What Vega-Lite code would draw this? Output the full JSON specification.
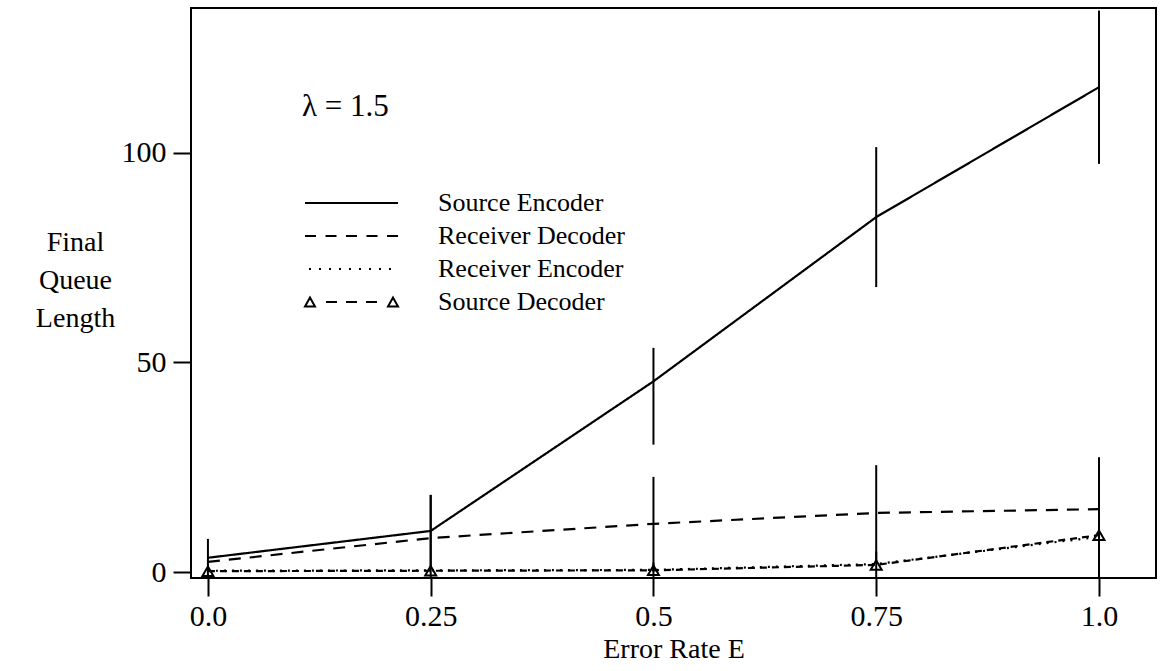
{
  "$schema": "https://vega.github.io/schema/vega-lite/v6.json",
  "width": 965,
  "height": 570,
  "autosize": {"type": "none"},
  "padding": {"left": 191, "top": 8, "right": 5, "bottom": 93},
  "background": "white",
  "config": {
    "font": "Liberation Serif",
    "view": {"stroke": "black", "strokeWidth": 2},
    "axis": {
      "labelFont": "Liberation Serif",
      "titleFont": "Liberation Serif",
      "labelColor": "black",
      "titleColor": "black",
      "titleFontWeight": "normal",
      "domain": false,
      "grid": false,
      "tickColor": "black",
      "tickWidth": 2,
      "tickSize": 18,
      "labelFontSize": 30,
      "titleFontSize": 28
    }
  },
  "datasets": {
    "queues": [
      {"E": 0.0, "series": "Source Encoder", "q": 3.4},
      {"E": 0.25, "series": "Source Encoder", "q": 9.8},
      {"E": 0.5, "series": "Source Encoder", "q": 45.5},
      {"E": 0.75, "series": "Source Encoder", "q": 84.7},
      {"E": 1.0, "series": "Source Encoder", "q": 115.7},
      {"E": 0.0, "series": "Receiver Decoder", "q": 2.4},
      {"E": 0.25, "series": "Receiver Decoder", "q": 8.1},
      {"E": 0.5, "series": "Receiver Decoder", "q": 11.5},
      {"E": 0.75, "series": "Receiver Decoder", "q": 14.1},
      {"E": 1.0, "series": "Receiver Decoder", "q": 15.0},
      {"E": 0.0, "series": "Receiver Encoder", "q": 0.3},
      {"E": 0.25, "series": "Receiver Encoder", "q": 0.4},
      {"E": 0.5, "series": "Receiver Encoder", "q": 0.5},
      {"E": 0.75, "series": "Receiver Encoder", "q": 1.9},
      {"E": 1.0, "series": "Receiver Encoder", "q": 8.4},
      {"E": 0.0, "series": "Source Decoder", "q": 0.2},
      {"E": 0.25, "series": "Source Decoder", "q": 0.3},
      {"E": 0.5, "series": "Source Decoder", "q": 0.4},
      {"E": 0.75, "series": "Source Decoder", "q": 1.7},
      {"E": 1.0, "series": "Source Decoder", "q": 8.8}
    ],
    "spread": [
      {"E": 0.0, "series": "Source Encoder", "lo": -1.5, "q": 7.9},
      {"E": 0.25, "series": "Source Encoder", "lo": 1.2, "q": 18.4},
      {"E": 0.5, "series": "Source Encoder", "lo": 30.4, "q": 53.5},
      {"E": 0.75, "series": "Source Encoder", "lo": 68, "q": 101.4},
      {"E": 1.0, "series": "Source Encoder", "lo": 97.4, "q": 134},
      {"E": 0.25, "series": "Receiver Decoder", "lo": -2.2, "q": 18.4},
      {"E": 0.5, "series": "Receiver Decoder", "lo": 0.3, "q": 22.7},
      {"E": 0.75, "series": "Receiver Decoder", "lo": 2.7, "q": 25.5},
      {"E": 1.0, "series": "Receiver Decoder", "lo": 2.6, "q": 27.4},
      {"E": 0.5, "series": "Source Decoder", "lo": -1.5, "q": 2.3},
      {"E": 0.75, "series": "Source Decoder", "lo": -1.5, "q": 4.9},
      {"E": 1.0, "series": "Source Decoder", "lo": -1.5, "q": 19.1}
    ],
    "key": [
      {"entry": "Source Encoder"},
      {"entry": "Receiver Decoder"},
      {"entry": "Receiver Encoder"},
      {"entry": "Source Decoder"}
    ]
  },
  "encoding": {
    "x": {
      "field": "E",
      "type": "quantitative",
      "scale": {"domain": [-0.019, 1.064], "nice": false, "zero": false},
      "axis": {
        "values": [0, 0.25, 0.5, 0.75, 1],
        "format": ".2~f",
        "labelExpr": "datum.value == 0 ? '0.0' : datum.value == 1 ? '1.0' : datum.label",
        "labelPadding": 5,
        "title": "Error Rate E",
        "titlePadding": 4
      }
    },
    "y": {
      "field": "q",
      "type": "quantitative",
      "scale": {"domain": [-1.43, 134.6], "nice": false, "zero": false},
      "axis": {
        "values": [0, 50, 100],
        "labelPadding": 7,
        "title": ["Final", "Queue", "Length"],
        "titleAngle": 0,
        "titleAlign": "center",
        "titleBaseline": "top",
        "titleLineHeight": 38,
        "titleX": -116,
        "titleY": 220
      }
    }
  },
  "layer": [
    {
      "data": {"name": "spread"},
      "mark": {"type": "rule", "color": "black", "strokeWidth": 2, "clip": true},
      "encoding": {
        "y2": {"field": "lo"}
      }
    },
    {
      "data": {"name": "queues"},
      "mark": {"type": "line", "color": "black", "strokeWidth": 2.2, "clip": true},
      "encoding": {
        "strokeDash": {
          "field": "series",
          "type": "nominal",
          "scale": {
            "domain": ["Source Decoder", "Receiver Encoder", "Receiver Decoder", "Source Encoder"],
            "range": [[7, 5], [2, 6], [12, 9], [1, 0]]
          },
          "legend": null
        }
      }
    },
    {
      "data": {"name": "queues"},
      "transform": [{"filter": "datum.series == 'Source Decoder'"}],
      "mark": {"type": "point", "shape": "triangle-up", "filled": false, "color": "black", "strokeWidth": 2, "size": 120, "opacity": 1}
    },
    {
      "data": {"name": "key"},
      "mark": {"type": "point", "filled": false, "color": "black", "opacity": 1, "size": 400},
      "encoding": {
        "shape": {
          "field": "entry",
          "type": "nominal",
          "scale": {
            "domain": ["Source Encoder", "Receiver Decoder", "Receiver Encoder", "Source Decoder"],
            "range": [
              "M-1,0H8.3",
              "M-1,0h1.1M1.05,0h1.1M3.1,0h1.1M5.15,0h1.1M7.2,0h1.1",
              "M-0.6,0h0.2M0.4,0h0.2M1.4,0h0.2M2.4,0h0.2M3.4,0h0.2M4.4,0h0.2M5.4,0h0.2M6.4,0h0.2M7.4,0h0.2",
              "M-1,0.45L-0.5,-0.45L0,0.45ZM1.1,0h1.1M3.1,0h1.1M5.1,0h1.1M7.3,0.45L7.8,-0.45L8.3,0.45Z"
            ]
          },
          "legend": {
            "title": "λ = 1.5",
            "orient": "none",
            "legendX": 111,
            "legendY": 84,
            "padding": 0,
            "titleFont": "Liberation Serif",
            "titleFontSize": 31,
            "titleFontWeight": "normal",
            "titleColor": "black",
            "titlePadding": 67,
            "titleLimit": 400,
            "labelFont": "Liberation Serif",
            "labelFontSize": 26,
            "labelColor": "black",
            "labelLimit": 400,
            "labelOffset": 110,
            "rowPadding": 7,
            "symbolOpacity": 1,
            "symbolStrokeColor": "black",
            "symbolFillColor": "transparent",
            "symbolStrokeWidth": 2,
            "symbolSize": 400
          }
        }
      }
    }
  ]
}
